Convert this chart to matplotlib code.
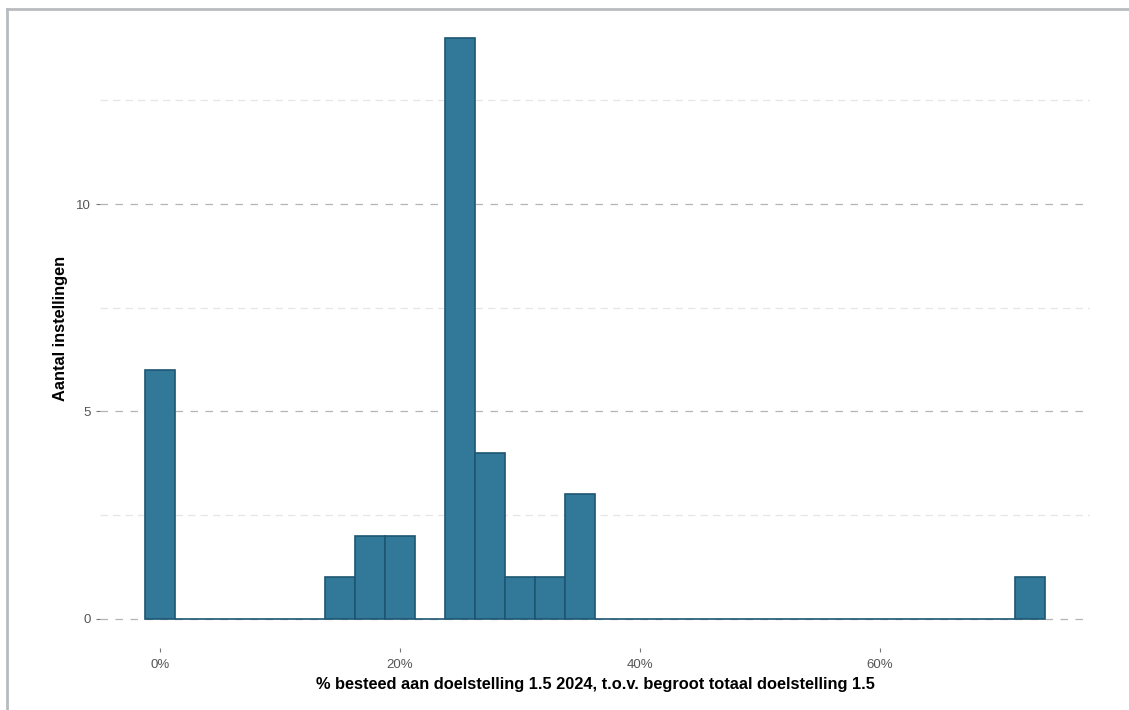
import matplotlib.pyplot as plt
import numpy as np
from matplotlib.lines import Line2D

plt.rcParams['font.family'] = ['Liberation Sans', 'DejaVu Sans']

# histogram: 30 bins of 2.5 %-points, centred on 0, 2.5, ..., 72.5
bin_width = 2.5
bin_counts = [6, 0, 0, 0, 0, 0, 1, 2, 2, 0,
              14, 4, 1, 1, 3, 0, 0, 0, 0, 0,
              0, 0, 0, 0, 0, 0, 0, 0, 0, 1]
x_ticks = [0, 20, 40, 60]
x_tick_labels = ['0%', '20%', '40%', '60%']
y_ticks = [0, 5, 10]

bin_centers = np.arange(len(bin_counts)) * bin_width

fig = plt.figure(figsize=(11.29, 7.1), dpi=100)
ax = fig.add_axes([100 / 1129, 1 - 648 / 710, 990 / 1129, 639 / 710])

ax.bar(bin_centers, bin_counts, width=bin_width, color='#317899',
       edgecolor='#1d5672', linewidth=1.2, zorder=3)

ax.set_xlim(-5, 77.5)
ax.set_ylim(-0.7, 14.7)

# grid: dashed major lines, faint minor ones in between
for y in y_ticks:
    ax.axhline(y, color='#b5b5b5', linewidth=0.9, dashes=(6, 6), zorder=1)
for y in [2.5, 7.5, 12.5]:
    ax.axhline(y, color='#e6e6e6', linewidth=0.9, dashes=(6, 4), zorder=1)

ax.set_xticks(x_ticks)
ax.set_xticklabels(x_tick_labels)
ax.set_yticks(y_ticks)
ax.tick_params(axis='both', labelsize=9.5, labelcolor='#555555',
               color='#777777', length=3, width=0.8)
ax.tick_params(axis='x', pad=5)

for s in ax.spines.values():
    s.set_visible(False)

ax.set_xlabel('% besteed aan doelstelling 1.5 2024, t.o.v. begroot totaal doelstelling 1.5',
              fontsize=11.8, fontweight='bold', labelpad=4)
ax.set_ylabel('Aantal instellingen', fontsize=11.8, fontweight='bold', labelpad=6)

# screenshot frame (left and top edge)
fig.add_artist(Line2D([7 / 1129, 7 / 1129], [0, 1 - 9 / 710], transform=fig.transFigure,
                      color='#b8bcc0', linewidth=2))
fig.add_artist(Line2D([7 / 1129, 1], [1 - 9 / 710, 1 - 9 / 710], transform=fig.transFigure,
                      color='#b8bcc0', linewidth=2))

plt.savefig('out.png', dpi=100)
plt.close()
